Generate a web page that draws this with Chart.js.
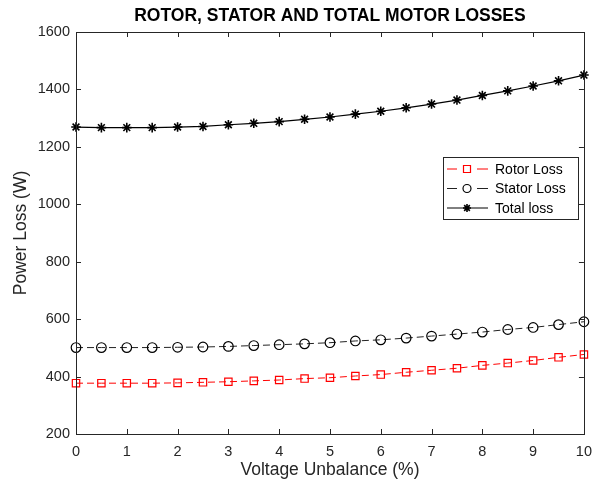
<!DOCTYPE html>
<html>
<head>
<meta charset="utf-8">
<script src="https://cdn.jsdelivr.net/npm/chart.js@4.4.1/dist/chart.umd.min.js"></script>
<style>
  html, body { margin: 0; padding: 0; background: #fff; }
  #wrap { width: 601px; height: 485px; }
</style>
</head>
<body>
<div id="wrap"><canvas id="lossChart" width="601" height="485"></canvas></div>
<script>
const voltageUnbalance = [0, 0.5, 1, 1.5, 2, 2.5, 3, 3.5, 4, 4.5, 5, 5.5, 6, 6.5, 7, 7.5, 8, 8.5, 9, 9.5, 10];
const rotorLoss = [377, 377, 377, 377, 378, 380, 382, 385, 388, 393, 396, 402, 407, 415, 422, 429, 439, 447, 456, 467, 477];
const statorLoss = [501, 501, 501, 501, 502, 503, 505, 508, 511, 514, 518, 524, 528, 534, 541, 548, 555, 564, 571, 581, 591];
const totalLoss = [1269, 1267, 1267, 1267, 1269, 1271, 1277, 1282, 1288, 1296, 1304, 1314, 1324, 1336, 1349, 1363, 1379, 1395, 1412, 1430, 1450];
const xTicks = [0, 1, 2, 3, 4, 5, 6, 7, 8, 9, 10];
const yTicks = [200, 400, 600, 800, 1000, 1200, 1400, 1600];

const FONT = '"Liberation Sans", Arial, sans-serif';
const AXIS_COLOR = '#262626';

const toPoints = (ys) => voltageUnbalance.map((x, i) => ({ x: x, y: ys[i] }));

// MATLAB style box with inward ticks
const boxPlugin = {
    id: 'boxTicks',
    afterDraw(chart) {
        const { ctx, chartArea: a, scales } = chart;
        const len = 5;
        ctx.save();
        ctx.strokeStyle = AXIS_COLOR;
        ctx.lineWidth = 1;
        ctx.beginPath();
        xTicks.forEach(v => {
            const px = Math.round(scales.x.getPixelForValue(v)) + 0.5;
            ctx.moveTo(px, a.bottom); ctx.lineTo(px, a.bottom - len);
            ctx.moveTo(px, a.top); ctx.lineTo(px, a.top + len);
        });
        yTicks.forEach(v => {
            const py = Math.round(scales.y.getPixelForValue(v)) + 0.5;
            ctx.moveTo(a.left, py); ctx.lineTo(a.left + len, py);
            ctx.moveTo(a.right, py); ctx.lineTo(a.right - len, py);
        });
        ctx.stroke();
        ctx.strokeRect(Math.round(a.left) + 0.5, Math.round(a.top) + 0.5,
            Math.round(a.right - a.left), Math.round(a.bottom - a.top));
        ctx.restore();
    }
};

// legend drawn inside the axes like the original figure
const legendPlugin = {
    id: 'innerLegend',
    afterDraw(chart) {
        const { ctx } = chart;
        const bx = 443, by = 157, bw = 135, bh = 62;
        ctx.save();
        ctx.fillStyle = '#fff';
        ctx.fillRect(bx, by, bw, bh);
        ctx.strokeStyle = '#262626';
        ctx.lineWidth = 1;
        ctx.strokeRect(bx + 0.5, by + 0.5, bw, bh);

        chart.data.datasets.forEach((ds, i) => {
            const cy = by + 12 + i * 19.5;
            const mx = bx + 24;
            ctx.strokeStyle = ds.borderColor;
            ctx.lineWidth = 1;
            ctx.setLineDash([]);
            ctx.beginPath();
            if (ds.borderDash && ds.borderDash.length) {
                ctx.moveTo(bx + 4, cy); ctx.lineTo(bx + 14, cy);
                ctx.moveTo(bx + 34, cy); ctx.lineTo(bx + 45, cy);
            } else {
                ctx.moveTo(bx + 4, cy); ctx.lineTo(bx + 45, cy);
            }
            ctx.stroke();
            ctx.strokeStyle = ds.pointBorderColor;
            ctx.lineWidth = ds.pointBorderWidth;
            ctx.beginPath();
            if (ds.pointStyle === 'rect') {
                ctx.rect(mx - 3.5, cy - 3.5, 7, 7);
            } else if (ds.pointStyle === 'circle') {
                ctx.arc(mx, cy, 4, 0, Math.PI * 2);
            } else {
                for (let k = 0; k < 4; k++) {
                    const ang = k * Math.PI / 4;
                    const dx = Math.cos(ang) * 4, dy = Math.sin(ang) * 4;
                    ctx.moveTo(mx - dx, cy - dy); ctx.lineTo(mx + dx, cy + dy);
                }
            }
            ctx.stroke();
            ctx.fillStyle = '#000';
            ctx.font = '14px ' + FONT;
            ctx.textBaseline = 'middle';
            ctx.textAlign = 'left';
            ctx.fillText(ds.label, bx + 52, cy + 1);
        });
        ctx.restore();
    }
};

const ctx = document.getElementById('lossChart').getContext('2d');
const lossChart = new Chart(ctx, {
    type: 'line',
    data: {
        datasets: [{
            label: 'Rotor Loss',
            data: toPoints(rotorLoss),
            borderColor: '#ff0000',
            borderWidth: 1,
            borderDash: [7, 4],
            pointStyle: 'rect',
            pointRadius: 5.2,
            pointBorderColor: '#ff0000',
            pointBackgroundColor: 'rgba(0,0,0,0)',
            pointBorderWidth: 1.2,
            tension: 0,
            clip: false
        }, {
            label: 'Stator Loss',
            data: toPoints(statorLoss),
            borderColor: '#222',
            borderWidth: 1,
            borderDash: [7, 4],
            pointStyle: 'circle',
            pointRadius: 4.8,
            pointBorderColor: '#000',
            pointBackgroundColor: 'rgba(0,0,0,0)',
            pointBorderWidth: 1.2,
            tension: 0,
            clip: false
        }, {
            label: 'Total loss',
            data: toPoints(totalLoss),
            borderColor: '#000',
            borderWidth: 1.2,
            pointStyle: 'star',
            pointRadius: 4.8,
            pointBorderColor: '#000',
            pointBackgroundColor: '#000',
            pointBorderWidth: 1.6,
            tension: 0,
            clip: false
        }]
    },
    options: {
        responsive: false,
        animation: false,
        events: [],
        layout: { padding: { left: 0, right: 16, top: 0, bottom: 0 } },
        plugins: {
            legend: { display: false },
            tooltip: { enabled: false },
            title: {
                display: true,
                fullSize: false,
                text: 'ROTOR, STATOR AND TOTAL MOTOR LOSSES',
                color: '#000',
                font: { family: FONT, size: 17.5, weight: 'bold' },
                padding: { top: 6, bottom: 5 }
            }
        },
        scales: {
            x: {
                type: 'linear',
                min: 0,
                max: 10,
                grid: { display: false, drawTicks: false },
                border: { display: false },
                ticks: {
                    stepSize: 1,
                    color: AXIS_COLOR,
                    padding: 9,
                    maxRotation: 0,
                    font: { family: FONT, size: 14.5 }
                },
                title: {
                    display: true,
                    text: 'Voltage Unbalance (%)',
                    color: AXIS_COLOR,
                    font: { family: FONT, size: 17.5 },
                    padding: { top: 0, bottom: 4.5 }
                },
                afterFit(scale) { scale.height = 51; }
            },
            y: {
                min: 200,
                max: 1600,
                grid: { display: false, drawTicks: false },
                border: { display: false },
                ticks: {
                    stepSize: 200,
                    color: AXIS_COLOR,
                    padding: 6,
                    font: { family: FONT, size: 14.5 },
                    callback: (value) => String(value)
                },
                title: {
                    display: true,
                    text: 'Power Loss (W)',
                    color: AXIS_COLOR,
                    font: { family: FONT, size: 17.5 },
                    padding: { top: 10.5, bottom: 0 }
                },
                afterFit(scale) { scale.width = 76; }
            }
        }
    },
    plugins: [boxPlugin, legendPlugin]
});
</script>
</body>
</html>
